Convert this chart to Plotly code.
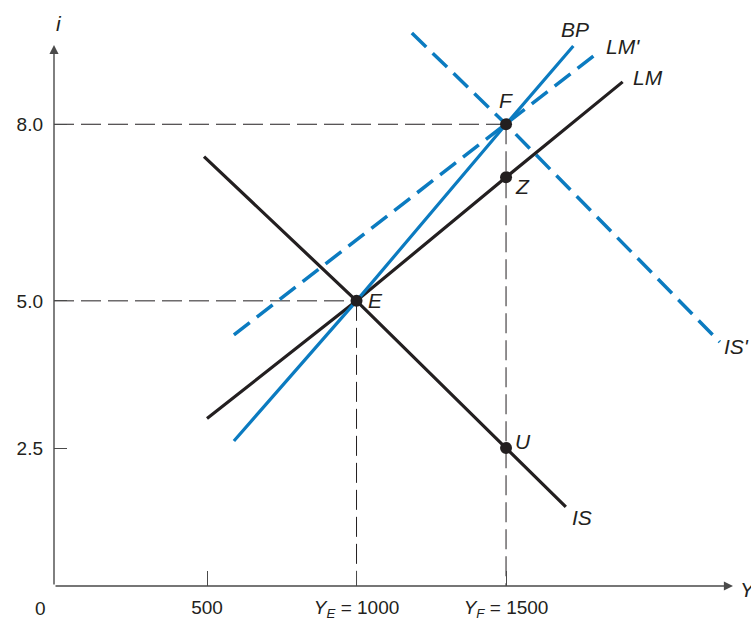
import plotly.graph_objects as go

# ---- data ----
is_x = [490, 1000, 1500, 1700]
is_i = [7.45, 5.0, 2.5, 1.5]
lm_x = [500, 1000, 1500, 1890]
lm_i = [3.0, 5.0, 7.1, 8.72]
bp_x = [590, 1000, 1500, 1725]
bp_i = [2.62, 5.0, 8.0, 9.33]
lm2_x = [590, 1500, 1805]
lm2_i = [4.42, 8.0, 9.21]
is2_x = [1185, 1500, 2215]
is2_i = [9.55, 8.0, 4.3]

pt_names = ["E", "F", "Z", "U"]
pt_x = [1000, 1500, 1500, 1500]
pt_i = [5.0, 8.0, 7.1, 2.5]

x_ticks = [500, 1000, 1500]
x_ticktext = ["500", "<i>Y</i><sub><i>E</i></sub> = 1000", "<i>Y</i><sub><i>F</i></sub> = 1500"]
y_ticks = [2.5, 5.0, 8.0]
y_ticktext = ["2.5", "5.0", "8.0"]

XMIN, XMAX = -11.7, 2259
YMIN, YMAX = 0.156, 9.805
Y_AXIS_TOP = 9.346

BLACK = "#231f20"
BLUE = "#0b7bc0"
FONT = "Liberation Sans, Arial, Helvetica, sans-serif"

fig = go.Figure()

# guide dashed lines
guide = dict(color=BLACK, width=1, dash="20px,7px")
fig.add_trace(go.Scatter(x=[XMIN, pt_x[1]], y=[pt_i[1], pt_i[1]], mode="lines", line=guide, hoverinfo="skip"))
fig.add_trace(go.Scatter(x=[XMIN, pt_x[0]], y=[pt_i[0], pt_i[0]], mode="lines", line=guide, hoverinfo="skip"))
fig.add_trace(go.Scatter(x=[pt_x[0], pt_x[0]], y=[pt_i[0], YMIN], mode="lines", line=guide, hoverinfo="skip"))
fig.add_trace(go.Scatter(x=[pt_x[1], pt_x[1]], y=[pt_i[1], YMIN], mode="lines", line=guide, hoverinfo="skip"))

# curves
fig.add_trace(go.Scatter(x=is2_x, y=is2_i, mode="lines", line=dict(color=BLUE, width=3.5, dash="20px,9px"), name="IS'"))
fig.add_trace(go.Scatter(x=lm2_x, y=lm2_i, mode="lines", line=dict(color=BLUE, width=3.5, dash="20px,9px"), name="LM'"))
fig.add_trace(go.Scatter(x=is_x, y=is_i, mode="lines", line=dict(color=BLACK, width=3.2), name="IS"))
fig.add_trace(go.Scatter(x=lm_x, y=lm_i, mode="lines", line=dict(color=BLACK, width=3.2), name="LM"))
fig.add_trace(go.Scatter(x=bp_x, y=bp_i, mode="lines", line=dict(color=BLUE, width=3.2), name="BP"))

# points
fig.add_trace(go.Scatter(x=pt_x, y=pt_i, mode="markers", marker=dict(color=BLACK, size=12), name="points"))

lab_font = dict(family=FONT, size=21, color=BLACK)
PLOT_W, PLOT_H = 751 - 54 - 18, 619 - 18 - 33


def px2paper(px, py):
    return (px - 54) / PLOT_W, (586 - py) / PLOT_H


def lab(text, px, py, font=lab_font, italic=True):
    xp, yp = px2paper(px, py)
    t = f"<i>{text}</i>" if italic else text
    fig.add_annotation(text=t, x=xp, y=yp, xref="paper", yref="paper",
                       xanchor="center", yanchor="middle",
                       showarrow=False, font=font)

# curve labels (pixel positions)
lab("BP", 575, 29)
lab("LM'", 623, 46)
lab("LM", 648, 78)
lab("IS", 582, 517)
lab("IS'", 736, 346)
# point labels
lab("F", 506, 100)
lab("Z", 522, 186)
lab("E", 375, 300)
lab("U", 523, 441)
# axis labels
lab("i", 59, 23)
lab("Y", 748, 589)
lab("0", 40, 608, font=dict(family=FONT, size=19, color=BLACK), italic=False)

# axes with arrowheads
fig.add_annotation(x=XMIN, y=Y_AXIS_TOP, ax=XMIN, ay=YMIN, xref="x", yref="y", axref="x", ayref="y",
                   text="", showarrow=True, arrowhead=2, arrowsize=1.3, arrowwidth=1.4, arrowcolor="#4a4a4a", standoff=0)
fig.add_annotation(x=XMAX, y=YMIN, ax=XMIN, ay=YMIN, xref="x", yref="y", axref="x", ayref="y",
                   text="", showarrow=True, arrowhead=2, arrowsize=1.3, arrowwidth=1.4, arrowcolor="#4a4a4a", standoff=0)

fig.update_layout(
    width=751, height=619,
    margin=dict(l=54, r=18, t=18, b=33, autoexpand=False),
    paper_bgcolor="white", plot_bgcolor="white",
    showlegend=False,
    font=dict(family=FONT, size=19, color=BLACK),
    xaxis=dict(range=[XMIN, XMAX], showgrid=False, zeroline=False, showline=False, automargin=False,
               tickvals=x_ticks, ticktext=x_ticktext, ticks="inside", ticklen=15, tickwidth=1.2,
               tickcolor="#4a4a4a", ticklabelstandoff=8, tickfont=dict(family=FONT, size=19, color=BLACK)),
    yaxis=dict(range=[YMIN, YMAX], showgrid=False, zeroline=False, showline=False, automargin=False,
               tickvals=y_ticks, ticktext=y_ticktext, ticks="inside", ticklen=13, tickwidth=1.2,
               tickcolor="#4a4a4a", ticklabelstandoff=10, tickfont=dict(family=FONT, size=19, color=BLACK)),
)

fig.write_html("out.html", config={"displayModeBar": False},
               post_script="document.body.style.margin='0';document.body.style.padding='0';")
